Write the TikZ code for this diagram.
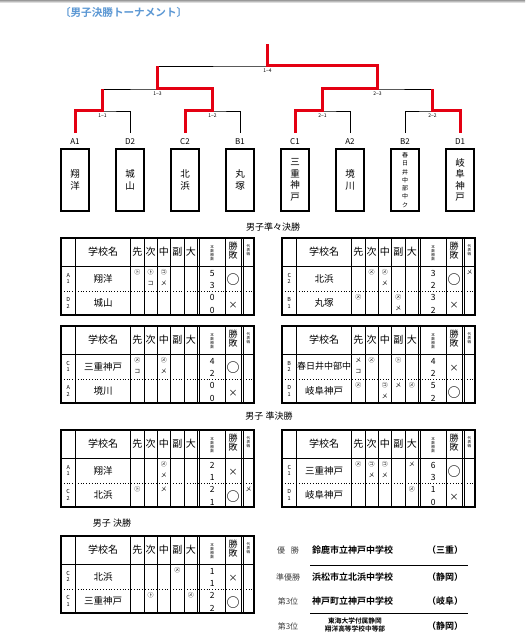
\documentclass[tikz,border=0pt]{standalone}
\usepackage{fontspec}
\setmainfont{Noto Sans CJK JP}[BoldFont={Noto Sans CJK JP Bold}]
\usepackage{tikz}
\usetikzlibrary{positioning}

\definecolor{tred}{RGB}{228,0,18}
\definecolor{tblue}{RGB}{92,152,212}

\tikzset{
  every node/.style={inner sep=0pt, outer sep=0pt},
  bline/.style={line width=0.9pt},
  rline/.style={draw=tred, line width=3pt},
  ttl/.style={font=\fontsize{10.6}{10.6}\selectfont\bfseries, text=tblue},
  seed/.style={font=\fontsize{8}{8}\selectfont},
  rnd/.style={font=\fontsize{5}{5}\selectfont},
  teambox/.style={draw, line width=1.6pt, minimum width=28pt, minimum height=62pt,
    align=center, font=\fontsize{9.5}{11.5}\selectfont},
  smallbox/.style={teambox, font=\fontsize{6}{8.3}\selectfont},
  sect/.style={font=\fontsize{9}{9}\selectfont},
  hd/.style={font=\fontsize{10}{10}\selectfont},
  hdsmall/.style={font=\fontsize{9}{9}\selectfont, align=center},
  microtxt/.style={font=\fontsize{3.6}{4}\selectfont, align=center},
  posl/.style={font=\fontsize{5.5}{6.5}\selectfont, align=center},
  sname/.style={font=\fontsize{9.5}{9.5}\selectfont},
  mk/.style={font=\fontsize{6}{6}\selectfont},
  num/.style={font=\fontsize{8.5}{12.5}\selectfont, align=center},
  win/.style={font=\fontsize{13}{13}\selectfont\bfseries},
  lose/.style={font=\fontsize{9}{9}\selectfont},
  plabel/.style={font=\fontsize{8}{8}\selectfont, text=black!75},
  pname/.style={font=\fontsize{9}{9}\selectfont\bfseries, anchor=west},
  pref/.style={font=\fontsize{9}{9}\selectfont\bfseries},
}

% score table frame and header, drawn in a shifted scope
\newcommand{\scoreframe}[1]{%
  \draw[line width=1.5pt] (0,0) rectangle (193,77);
  \draw[line width=1pt] (0,28) -- (193,28);
  \draw[dotted, line width=0.8pt] (0,53) -- (193,53);
  \foreach \cx in {14.5,69.5,83,96,109.5,123,136.5,138.5,164,180,182}
    \draw[line width=0.7pt] (\cx,0) -- (\cx,77);
  \node[hd] (#1-h0) at (42,14) {学校名};
  \node[hd] (#1-h1) at (76.25,14) {先};
  \node[hd] (#1-h2) at (89.5,14) {次};
  \node[hd] (#1-h3) at (102.75,14) {中};
  \node[hd] (#1-h4) at (116.25,14) {副};
  \node[hd] (#1-h5) at (129.75,14) {大};
  \node[microtxt] (#1-h6) at (151.25,15) {本\\数\\勝\\数};
  \node[hdsmall] (#1-h7) at (172,13) {勝\\敗};
  \node[microtxt] (#1-h8) at (187.5,12) {代\\表\\戦};
}

\begin{document}
\begin{tikzpicture}[x=1pt,y=-1pt]
  \fill[white] (0,0) rectangle (525,639);
  \useasboundingbox (0,0) rectangle (525,639);
  \shade[top color=black!40, bottom color=white] (0,0) rectangle (525,3);

  \node[ttl, anchor=west] (title) at (60,12) {〔男子決勝トーナメント〕};

  % bracket points
  \coordinate (top) at (267.5,44);
  \coordinate (m14) at (267.5,66);
  \coordinate (m13) at (157.5,89);
  \coordinate (m23) at (377.5,89);
  \coordinate (m11) at (102.5,111);
  \coordinate (m12) at (212.5,111);
  \coordinate (m21) at (322.5,111);
  \coordinate (m22) at (432.5,111);

  % teams
  \node[teambox] (A1) at (75,180) {翔\\洋};
  \node[teambox] (D2) at (130,180) {城\\山};
  \node[teambox] (C2) at (185,180) {北\\浜};
  \node[teambox] (B1) at (240,180) {丸\\塚};
  \node[teambox] (C1) at (295,180) {三\\重\\神\\戸};
  \node[teambox] (A2) at (350,180) {境\\川};
  \node[smallbox] (B2) at (405,180) {春\\日\\井\\中\\部\\中\\ク};
  \node[teambox] (D1) at (460,180) {岐\\阜\\神\\戸};

  \node[seed, above=4pt of A1] (sA1) {A1};
  \node[seed, above=4pt of D2] (sD2) {D2};
  \node[seed, above=4pt of C2] (sC2) {C2};
  \node[seed, above=4pt of B1] (sB1) {B1};
  \node[seed, above=4pt of C1] (sC1) {C1};
  \node[seed, above=4pt of A2] (sA2) {A2};
  \node[seed, above=4pt of B2] (sB2) {B2};
  \node[seed, above=4pt of D1] (sD1) {D1};

  \coordinate (eA1) at (75,133);
  \coordinate (eD2) at (130,133);
  \coordinate (eC2) at (185,133);
  \coordinate (eB1) at (240,133);
  \coordinate (eC1) at (295,133);
  \coordinate (eA2) at (350,133);
  \coordinate (eB2) at (405,133);
  \coordinate (eD1) at (460,133);

  \draw[bline] (eA1) |- (m11) -| (eD2);
  \draw[bline] (eC2) |- (m12) -| (eB1);
  \draw[bline] (eC1) |- (m21) -| (eA2);
  \draw[bline] (eB2) |- (m22) -| (eD1);
  \draw[bline] (m11) |- (m13) -| (m12);
  \draw[bline] (m21) |- (m23) -| (m22);
  \draw[bline] (m13) |- (m14) -| (m23);
  \draw[bline] (m14) -- (top);

  % winners
  \draw[rline] (eA1) |- (m11) -- (m11 |- m13);
  \draw[rline] (eC2) |- (m12) |- (m13) -- (m13 |- m14);
  \draw[rline] (eC1) |- (m21) |- (m23) |- (m14) -- (top);
  \draw[rline] (eD1) |- (m22) -- (m22 |- m23);

  \node[rnd, below=2.5pt of m14] (r14) {1−4};
  \node[rnd, below=2.5pt of m13] (r13) {1−3};
  \node[rnd, below=2.5pt of m23] (r23) {2−3};
  \node[rnd, below=2.5pt of m11] (r11) {1−1};
  \node[rnd, below=2.5pt of m12] (r12) {1−2};
  \node[rnd, below=2.5pt of m21] (r21) {2−1};
  \node[rnd, below=2.5pt of m22] (r22) {2−2};

  % quarter finals
  \node[sect] (qf) at (273,227) {男子準々決勝};

  \begin{scope}[shift={(61,238)}]
    \scoreframe{t1}
    \node[posl] (t1-pa) at (7.25,40.5) {A\\1};
    \node[sname] (t1-na) at (42,40.5) {翔洋};
    \node[mk] (t1-a1) at (76.25,34) {㋣};
    \node[mk] (t1-a2) at (89.5,34) {㋣};
    \node[mk] (t1-a3) at (89.5,45) {コ};
    \node[mk] (t1-a4) at (102.75,34) {㋙};
    \node[mk] (t1-a5) at (102.75,45) {メ};
    \node[num] (t1-sa) at (151.25,41.5) {5\\3};
    \node[win] (t1-ra) at (172,42) {○};
    \node[posl] (t1-pb) at (7.25,65) {D\\2};
    \node[sname] (t1-nb) at (42,65) {城山};
    \node[num] (t1-sb) at (151.25,66) {0\\0};
    \node[lose] (t1-rb) at (172,67) {×};
  \end{scope}

  \begin{scope}[shift={(282,238)}]
    \scoreframe{t2}
    \node[posl] (t2-pa) at (7.25,40.5) {C\\2};
    \node[sname] (t2-na) at (42,40.5) {北浜};
    \node[mk] (t2-a1) at (89.5,34) {㋱};
    \node[mk] (t2-a2) at (102.75,34) {㋱};
    \node[mk] (t2-a3) at (102.75,45) {メ};
    \node[mk] (t2-a4) at (187.5,34) {メ};
    \node[num] (t2-sa) at (151.25,41.5) {3\\2};
    \node[win] (t2-ra) at (172,42) {○};
    \node[posl] (t2-pb) at (7.25,65) {B\\1};
    \node[sname] (t2-nb) at (42,65) {丸塚};
    \node[mk] (t2-b1) at (76.25,59) {㋱};
    \node[mk] (t2-b2) at (116.25,59) {㋱};
    \node[mk] (t2-b3) at (116.25,70) {メ};
    \node[num] (t2-sb) at (151.25,66) {3\\2};
    \node[lose] (t2-rb) at (172,67) {×};
  \end{scope}

  \begin{scope}[shift={(61,326)}]
    \scoreframe{t3}
    \node[posl] (t3-pa) at (7.25,40.5) {C\\1};
    \node[sname] (t3-na) at (42,40.5) {三重神戸};
    \node[mk] (t3-a1) at (76.25,34) {㋱};
    \node[mk] (t3-a2) at (76.25,45) {コ};
    \node[mk] (t3-a3) at (102.75,34) {㋱};
    \node[mk] (t3-a4) at (102.75,45) {メ};
    \node[num] (t3-sa) at (151.25,41.5) {4\\2};
    \node[win] (t3-ra) at (172,42) {○};
    \node[posl] (t3-pb) at (7.25,65) {A\\2};
    \node[sname] (t3-nb) at (42,65) {境川};
    \node[num] (t3-sb) at (151.25,66) {0\\0};
    \node[lose] (t3-rb) at (172,67) {×};
  \end{scope}

  \begin{scope}[shift={(282,326)}]
    \scoreframe{t4}
    \node[posl] (t4-pa) at (7.25,40.5) {B\\2};
    \node[sname, font=\fontsize{9}{9}\selectfont] (t4-na) at (42.2,40.5) {春日井中部中};
    \node[mk] (t4-a1) at (76.25,34) {メ};
    \node[mk] (t4-a2) at (76.25,45) {コ};
    \node[mk] (t4-a3) at (89.5,34) {㋱};
    \node[mk] (t4-a4) at (116.25,34) {㋣};
    \node[num] (t4-sa) at (151.25,41.5) {4\\2};
    \node[lose] (t4-ra) at (172,42) {×};
    \node[posl] (t4-pb) at (7.25,65) {D\\1};
    \node[sname] (t4-nb) at (42,65) {岐阜神戸};
    \node[mk] (t4-b1) at (76.25,59) {㋱};
    \node[mk] (t4-b2) at (102.75,59) {㋙};
    \node[mk] (t4-b3) at (102.75,70) {メ};
    \node[mk] (t4-b4) at (116.25,59) {メ};
    \node[mk] (t4-b5) at (129.75,59) {㋱};
    \node[num] (t4-sb) at (151.25,66) {5\\2};
    \node[win] (t4-rb) at (172,67) {○};
  \end{scope}

  % semi finals
  \node[sect] (sf) at (269,416) {男子 準決勝};

  \begin{scope}[shift={(61,430)}]
    \scoreframe{t5}
    \node[posl] (t5-pa) at (7.25,40.5) {A\\1};
    \node[sname] (t5-na) at (42,40.5) {翔洋};
    \node[mk] (t5-a1) at (102.75,34) {㋱};
    \node[mk] (t5-a2) at (102.75,45) {メ};
    \node[num] (t5-sa) at (151.25,41.5) {2\\1};
    \node[lose] (t5-ra) at (172,42) {×};
    \node[posl] (t5-pb) at (7.25,65) {C\\2};
    \node[sname] (t5-nb) at (42,65) {北浜};
    \node[mk] (t5-b1) at (76.25,59) {㋣};
    \node[mk] (t5-b2) at (102.75,59) {メ};
    \node[mk] (t5-b3) at (187.5,59) {メ};
    \node[num] (t5-sb) at (151.25,66) {2\\1};
    \node[win] (t5-rb) at (172,67) {○};
  \end{scope}

  \begin{scope}[shift={(282,430)}]
    \scoreframe{t6}
    \node[posl] (t6-pa) at (7.25,40.5) {C\\1};
    \node[sname] (t6-na) at (42,40.5) {三重神戸};
    \node[mk] (t6-a1) at (76.25,34) {㋱};
    \node[mk] (t6-a2) at (89.5,34) {㋙};
    \node[mk] (t6-a3) at (89.5,45) {メ};
    \node[mk] (t6-a4) at (102.75,34) {㋙};
    \node[mk] (t6-a5) at (102.75,45) {メ};
    \node[mk] (t6-a6) at (129.75,34) {メ};
    \node[num] (t6-sa) at (151.25,41.5) {6\\3};
    \node[win] (t6-ra) at (172,42) {○};
    \node[posl] (t6-pb) at (7.25,65) {D\\1};
    \node[sname] (t6-nb) at (42,65) {岐阜神戸};
    \node[mk] (t6-b1) at (129.75,59) {㋱};
    \node[num] (t6-sb) at (151.25,66) {1\\0};
    \node[lose] (t6-rb) at (172,67) {×};
  \end{scope}

  % final
  \node[sect] (fn) at (112,523) {男子 決勝};

  \begin{scope}[shift={(61,536)}]
    \scoreframe{t7}
    \node[posl] (t7-pa) at (7.25,40.5) {C\\2};
    \node[sname] (t7-na) at (42,40.5) {北浜};
    \node[mk] (t7-a1) at (116.25,34) {㋱};
    \node[num] (t7-sa) at (151.25,41.5) {1\\1};
    \node[lose] (t7-ra) at (172,42) {×};
    \node[posl] (t7-pb) at (7.25,65) {C\\1};
    \node[sname] (t7-nb) at (42,65) {三重神戸};
    \node[mk] (t7-b1) at (89.5,59) {㋣};
    \node[mk] (t7-b2) at (129.75,59) {㋱};
    \node[num] (t7-sb) at (151.25,66) {2\\2};
    \node[win] (t7-rb) at (172,67) {○};
  \end{scope}

  % placings
  \node[plabel] (p1) at (288,550) {優\hspace{0.7em}勝};
  \node[pname] (w1) at (312,550) {鈴鹿市立神戸中学校};
  \node[pref] (q1) at (445,550) {（三重）};
  \draw[line width=0.8pt] (310,565) -- (468,565);
  \node[plabel] (p2) at (288,577) {準優勝};
  \node[pname] (w2) at (312,577) {浜松市立北浜中学校};
  \node[pref] (q2) at (445,577) {（静岡）};
  \node[plabel] (p3) at (288,601) {第3位};
  \node[pname] (w3) at (312,601) {神戸町立神戸中学校};
  \node[pref] (q3) at (445,601) {（岐阜）};
  \draw[line width=0.8pt] (310,613.5) -- (468,613.5);
  \node[plabel] (p4) at (288,626) {第3位};
  \node[font=\fontsize{6.7}{7.8}\selectfont\bfseries, align=center] (w4) at (355,625) {東海大学付属静岡\\翔洋高等学校中等部};
  \node[pref] (q4) at (445,626) {（静岡）};
\end{tikzpicture}
\end{document}
